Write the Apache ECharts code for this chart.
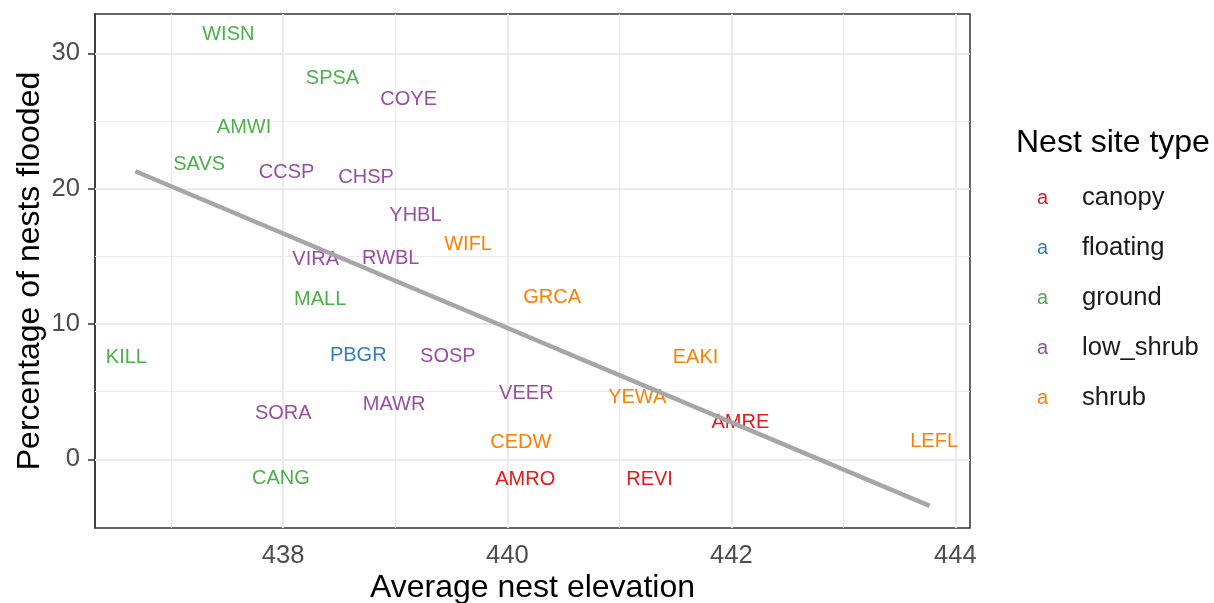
<!DOCTYPE html>
<html>
<head>
<meta charset="utf-8">
<script src="https://cdn.jsdelivr.net/npm/echarts@6/dist/echarts.min.js"></script>
<style>
html,body{margin:0;padding:0;background:#fff;overflow:hidden;}
#chart{width:1214px;height:603px;}
</style>
</head>
<body>
<div id="chart"></div>
<script>
// ---- data ----
const species   = ['WISN','SPSA','COYE','AMWI','SAVS','CCSP','CHSP','YHBL','WIFL','VIRA','RWBL','MALL','GRCA','KILL','PBGR','SOSP','EAKI','VEER','MAWR','SORA','YEWA','AMRE','CEDW','LEFL','CANG','AMRO','REVI'];
const siteType  = ['ground','ground','low_shrub','ground','ground','low_shrub','low_shrub','low_shrub','shrub','low_shrub','low_shrub','ground','shrub','ground','floating','low_shrub','shrub','low_shrub','low_shrub','low_shrub','shrub','canopy','shrub','shrub','ground','canopy','canopy'];
const elevation = [437.51,438.44,439.12,437.65,437.25,438.03,438.74,439.18,439.65,438.29,438.96,438.33,440.40,436.60,438.67,439.47,441.68,440.17,438.99,438.00,441.16,442.08,440.12,443.81,437.98,440.16,441.27];
const pctFlooded= [31.42,28.14,26.57,24.48,21.82,21.16,20.83,18.00,15.87,14.74,14.83,11.79,11.98,7.55,7.68,7.60,7.55,4.89,4.06,3.42,4.60,2.71,1.28,1.30,-1.43,-1.50,-1.50];
const types     = ['canopy','floating','ground','low_shrub','shrub'];
const typeColors= ['#E41A1C','#377EB8','#4DAF4A','#984EA3','#FF7F00'];
const trendX    = [436.68, 443.77];
const trendY    = [21.28, -3.44];
const xTicks    = [438, 440, 442, 444];
const yTicks    = [0, 10, 20, 30];
const xGridMajor= [438, 440, 442, 444];
const xGridMinor= [437, 439, 441, 443];
const yGridMajor= [0, 10, 20, 30];
const yGridMinor= [5, 15, 25];

const FONT = '"Liberation Sans", Arial, Helvetica, sans-serif';

const chart = echarts.init(document.getElementById('chart'), null, {renderer:'canvas'});

const labelSeries = types.map((t, ti) => ({
  name: t,
  type: 'scatter',
  z: 3,
  silent: true,
  symbolSize: 2,
  itemStyle: { color: 'rgba(0,0,0,0)', opacity: 1 },
  label: {
    show: true,
    position: 'inside',
    color: typeColors[ti],
    opacity: 1,
    fontSize: 20,
    fontFamily: FONT,
    formatter: p => p.value[2]
  },
  data: species.map((s, i) => siteType[i] === t ? [elevation[i], pctFlooded[i], s] : null).filter(d => d)
}));

const gridLines = [];
xGridMinor.forEach(v => gridLines.push({ xAxis: v, lineStyle: { width: 1.2 } }));
yGridMinor.forEach(v => gridLines.push({ yAxis: v, lineStyle: { width: 1.2 } }));
xGridMajor.forEach(v => gridLines.push({ xAxis: v, lineStyle: { width: 2 } }));
yGridMajor.forEach(v => gridLines.push({ yAxis: v, lineStyle: { width: 2 } }));

const option = {
  animation: false,
  backgroundColor: '#ffffff',
  textStyle: { fontFamily: FONT },
  title: {
    text: 'Nest site type',
    left: 1016, top: 127, padding: 0,
    textStyle: { fontSize: 32, fontWeight: 'normal', color: '#000000', fontFamily: FONT }
  },
  legend: {
    orient: 'vertical',
    left: 1032, top: 183, padding: 0,
    icon: 'none',
    itemWidth: 0, itemHeight: 30, itemGap: 22,
    selectedMode: false,
    formatter: name => '{k|a}{n|' + name + '}',
    data: types.map((t, ti) => ({
      name: t,
      textStyle: {
        rich: {
          k: { color: typeColors[ti], fontSize: 20, width: 45, lineHeight: 30, fontFamily: FONT },
          n: { color: '#1a1a1a', fontSize: 25.6, lineHeight: 30, fontFamily: FONT }
        }
      }
    }))
  },
  grid: {
    left: 95, right: 244, top: 14, bottom: 75,
    containLabel: false,
    outerBoundsMode: 'none',
    show: true, borderColor: '#333333', borderWidth: 1.5, backgroundColor: '#ffffff'
  },
  xAxis: {
    type: 'value',
    min: 436.32, max: 444.13,
    name: 'Average nest elevation',
    nameLocation: 'middle', nameGap: 44,
    nameMoveOverlap: false,
    nameTextStyle: { fontSize: 32, color: '#000000', fontFamily: FONT },
    axisLine: { show: true, lineStyle: { color: '#333333', width: 1.5 } },
    axisTick: { show: true, length: 7, customValues: xTicks, lineStyle: { color: '#333333', width: 1.5 } },
    axisLabel: { customValues: xTicks, margin: 15, fontSize: 25.6, color: '#4d4d4d', fontFamily: FONT, formatter: v => String(v) },
    splitLine: { show: false }
  },
  yAxis: {
    type: 'value',
    min: -5.07, max: 32.9,
    name: 'Percentage of nests flooded',
    nameLocation: 'middle', nameGap: 49,
    nameMoveOverlap: false,
    nameTextStyle: { fontSize: 32, color: '#000000', fontFamily: FONT },
    axisLine: { show: true, lineStyle: { color: '#333333', width: 1.5 } },
    axisTick: { show: true, length: 7, customValues: yTicks, lineStyle: { color: '#333333', width: 1.5 } },
    axisLabel: { customValues: yTicks, margin: 15, fontSize: 25.6, color: '#4d4d4d', fontFamily: FONT, formatter: v => String(v) },
    splitLine: { show: false }
  },
  series: [
    {
      name: '__grid',
      type: 'line',
      z: 1,
      silent: true,
      showSymbol: false,
      symbol: 'none',
      lineStyle: { opacity: 0 },
      data: [[trendX[0], trendY[0]]],
      markLine: {
        z: 1,
        silent: true,
        symbol: ['none', 'none'],
        label: { show: false },
        lineStyle: { color: '#ebebeb', type: 'solid' },
        emphasis: { disabled: true },
        data: gridLines
      }
    },
    ...labelSeries,
    {
      name: '__trend',
      type: 'line',
      z: 4,
      silent: true,
      symbol: 'none',
      lineStyle: { color: '#a6a6a6', width: 4.5 },
      data: trendX.map((x, i) => [x, trendY[i]])
    }
  ]
};
chart.setOption(option);
</script>
</body>
</html>
